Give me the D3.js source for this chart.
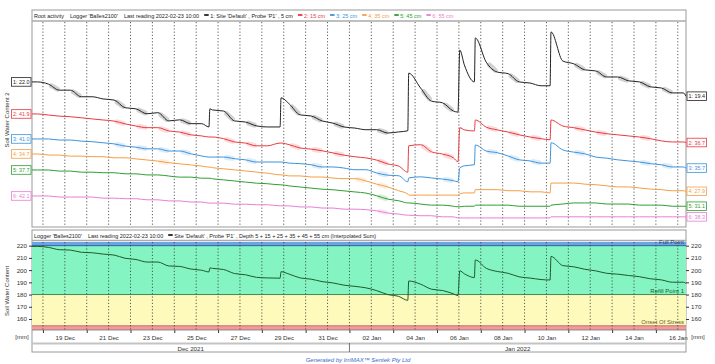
<!DOCTYPE html>
<html>
<head>
<meta charset="utf-8">
<script src="https://cdn.jsdelivr.net/npm/d3@7"></script>
<style>
  body { margin: 0; background: #fff; }
  text { font-family: Arial, "Liberation Sans", sans-serif; }
</style>
</head>
<body>
<div id="chart"></div>
<script>

// reading times (shared by every sensor)
var times = ["2021-12-17 12:00","2021-12-17 18:00","2021-12-18 06:00","2021-12-18 18:00","2021-12-19 06:00","2021-12-19 18:00",
  "2021-12-20 06:00","2021-12-20 18:00","2021-12-21 06:00","2021-12-21 18:00","2021-12-22 06:00","2021-12-22 18:00",
  "2021-12-23 06:00","2021-12-23 18:00","2021-12-24 06:00","2021-12-24 18:00","2021-12-25 06:00","2021-12-25 14:00",
  "2021-12-25 15:00","2021-12-25 18:00","2021-12-26 06:00","2021-12-26 18:00","2021-12-27 06:00","2021-12-27 18:00",
  "2021-12-28 06:00","2021-12-28 20:00","2021-12-28 21:00","2021-12-29 06:00","2021-12-29 18:00","2021-12-30 06:00",
  "2021-12-30 18:00","2021-12-31 06:00","2021-12-31 18:00","2022-01-01 06:00","2022-01-01 18:00","2022-01-02 06:00",
  "2022-01-02 18:00","2022-01-03 06:00","2022-01-03 16:00","2022-01-03 17:00","2022-01-04 06:00","2022-01-04 18:00",
  "2022-01-05 06:00","2022-01-05 18:00","2022-01-05 23:00","2022-01-06 01:00","2022-01-06 06:00","2022-01-06 17:00",
  "2022-01-06 18:00","2022-01-07 06:00","2022-01-07 18:00","2022-01-08 06:00","2022-01-08 18:00","2022-01-09 06:00",
  "2022-01-09 18:00","2022-01-10 04:00","2022-01-10 05:00","2022-01-10 18:00","2022-01-11 06:00","2022-01-11 18:00",
  "2022-01-12 06:00","2022-01-12 18:00","2022-01-13 06:00","2022-01-13 18:00","2022-01-14 06:00","2022-01-14 18:00",
  "2022-01-15 06:00","2022-01-15 18:00","2022-01-16 06:00","2022-01-16 09:00"];

// soil water content per sensor depth
var swc5 = [22.0,22.0,21.6,20.5,20.5,19.3,19.3,18.9,18.7,17.3, 17.1,16.2,16.4,14.9,15.1,14.4,14.4,13.8,17.1,16.9,
  16.7,14.9,14.7,14.0,13.8,13.8,19.1,18.0,16.0,15.8, 14.9,14.5,13.8,13.6,13.3,13.3,12.7,12.9,13.1,23.6,
  20.9,18.5,18.2,16.7,16.5,27.8,25.1,22.0,30.0,25.6, 23.8,23.5,22.0,21.8,21.3,21.3,31.1,25.8,25.3,24.2,
  24.0,22.9,22.9,22.2,22.0,21.1,20.9,20.0,20.0,19.4];
var swc15 = [41.9,41.9,41.7,41.5,41.4,41.2,41.0,40.8,40.6,40.1, 39.7,39.4,39.4,38.8,38.6,38.1,37.9,37.7,37.7,37.7,
  37.4,36.8,36.6,36.1,36.1,36.6,36.6,36.3,35.7,35.5, 35.2,34.8,34.4,34.1,33.9,33.5,32.8,32.4,31.3,36.1,
  36.3,35.0,34.6,33.9,33.2,39.4,39.0,38.8,40.8,39.5, 39.0,38.6,38.1,37.7,37.4,37.2,40.8,39.7,39.4,39.0,
  38.6,38.3,38.1,37.9,37.7,37.4,37.0,36.8,36.8,36.7];
var swc25 = [41.0,41.0,41.0,40.8,40.8,40.6,40.5,40.3,40.1,39.7, 39.5,39.2,39.2,38.8,38.8,38.3,37.9,37.7,37.7,37.7,
  37.7,37.4,37.2,36.8,36.8,36.8,36.8,36.6,36.5,36.3, 35.9,35.9,35.7,35.4,35.4,34.8,34.4,34.3,33.2,33.9,
  34.1,33.9,33.7,33.4,33.2,35.7,36.1,36.3,39.9,38.8, 38.5,37.9,37.2,37.0,36.6,36.6,40.3,39.0,38.6,38.3,
  37.7,37.5,37.2,37.0,36.8,36.5,36.3,35.9,35.9,35.7];
var swc35 = [34.7,34.7,34.5,34.5,34.3,34.3,34.2,34.2,34.0,34.0, 33.8,33.6,33.4,33.1,32.9,32.7,32.5,32.3,32.3,32.2,
  32.0,31.8,31.6,31.4,31.2,30.9,30.9,30.7,30.7,30.5, 30.5,30.3,30.2,30.2,29.8,29.2,28.7,28.0,27.4,27.2,
  27.2,27.2,27.2,27.2,27.2,27.4,27.6,27.6,28.2,28.2, 28.2,28.0,28.0,27.8,27.8,27.6,29.4,29.4,29.4,29.2,
  29.1,28.9,28.7,28.7,28.5,28.3,28.2,28.0,28.0,27.9];
var swc45 = [37.7,37.7,37.7,37.5,37.5,37.3,37.3,37.2,37.2,37.0, 37.0,36.8,36.8,36.6,36.4,36.4,36.2,36.2,36.2,36.1,
  35.9,35.7,35.5,35.3,35.2,35.0,35.0,34.8,34.6,34.4, 34.2,34.1,33.9,33.7,33.5,33.0,32.4,32.1,31.7,31.7,
  31.5,31.3,31.3,31.1,31.0,31.0,31.1,31.1,31.3,31.3, 31.3,31.3,31.1,31.1,31.1,31.1,31.3,31.5,31.7,31.7,
  31.7,31.5,31.5,31.5,31.3,31.3,31.3,31.1,31.1,31.1];
var swc55 = [42.1,42.1,42.1,41.9,41.9,41.9,41.9,41.7,41.7,41.6, 41.6,41.4,41.4,41.2,41.2,41.0,41.0,40.8,40.8,40.8,
  40.8,40.6,40.6,40.5,40.5,40.3,40.3,40.3,40.1,40.1, 39.9,39.9,39.7,39.7,39.6,39.4,39.0,38.8,38.6,38.6,
  38.5,38.5,38.3,38.3,38.1,38.1,38.1,38.1,38.1,38.1, 38.1,38.1,38.1,38.1,38.1,38.1,38.3,38.3,38.3,38.3,
  38.3,38.3,38.3,38.3,38.3,38.3,38.3,38.3,38.3,38.3];

var sensors = [swc5, swc15, swc25, swc35, swc45, swc55];
var sensorNames = ["1: Site 'Default' , Probe 'P1' , 5 cm", "2: 15 cm", "3: 25 cm", "4: 35 cm", "5: 45 cm", "6: 55 cm"];
var sensorColors = ["#222222", "#e8393f", "#3d93dc", "#f59e45", "#2e9e32", "#e77fd4"];
// each trace is shifted in the root activity view
var sensorOffsets = [4.41, -21.32, -24.97, -21.40, -27.32, -36.45];

var sumTicks = [160, 170, 180, 190, 200, 210, 220];
var fullPoint = 220, refillPoint = 180, stressPoint = 154.5;

var parseTime = d3.timeParse("%Y-%m-%d %H:%M");
var dates = times.map(parseTime);

// interpolated sum of the six sensors (mm)
var profileSum = dates.map(function(d, j) {
  return d3.sum(sensors, function(s) { return s[j]; });
});

var svg = d3.select("#chart").append("svg")
    .attr("width", 715)
    .attr("height", 364);

var left = 32, right = 686;
var headSize = "5.5px";

var x = d3.scaleTime()
    .domain(d3.extent(dates))
    .range([left, right]);

var yRoot = d3.scaleLinear().domain([0, 37.5]).range([227, 21]);
var ySum = d3.scaleLinear().domain([151, 223]).range([330, 242]);

var days = d3.timeDay.range(d3.timeDay.ceil(x.domain()[0]), x.domain()[1]);

function dayLines(y0, y1) {
  svg.append("g").selectAll("line")
      .data(days)
    .enter().append("line")
      .attr("x1", function(d) { return x(d); })
      .attr("x2", function(d) { return x(d); })
      .attr("y1", y0)
      .attr("y2", y1)
      .attr("stroke", "#333")
      .attr("stroke-width", 0.8)
      .attr("stroke-dasharray", "1.2,2");
}

// header row: items placed one after another, returns next x
function headerText(xp, yp, txt, color) {
  var t = svg.append("text")
      .attr("x", xp)
      .attr("y", yp)
      .attr("font-size", headSize)
      .attr("fill", color || "#222")
      .text(txt);
  return xp + t.node().getComputedTextLength();
}
function headerMark(xp, yp, color) {
  svg.append("rect")
      .attr("x", xp).attr("y", yp - 3.4)
      .attr("width", 4.5).attr("height", 1.8)
      .attr("fill", color);
  return xp + 6;
}

/* Root activity panel */

svg.append("rect")
    .attr("x", left).attr("y", 10)
    .attr("width", right - left).attr("height", 217)
    .attr("fill", "#fff")
    .attr("stroke", "#9a9a9a");
svg.append("line")
    .attr("x1", left).attr("x2", right)
    .attr("y1", 21).attr("y2", 21)
    .attr("stroke", "#aaa").attr("stroke-width", 1.5);

var hx = headerText(34, 17.5, "Root activity") + 6;
hx = headerText(hx, 17.5, "Logger 'Balles2100'") + 6;
hx = headerText(hx, 17.5, "Last reading 2022-02-23 10:00") + 5;

// legend
sensorNames.forEach(function(name, i) {
  hx = headerMark(hx, 17.5, sensorColors[i]);
  hx = headerText(hx, 17.5, name, i === 0 ? "#222" : sensorColors[i]) + 5;
});

dayLines(22, 226);

svg.append("clipPath").attr("id", "clipRoot")
  .append("rect").attr("x", left).attr("y", 22).attr("width", right - left).attr("height", 205);

var rootG = svg.append("g").attr("clip-path", "url(#clipRoot)");

sensors.forEach(function(values, i) {
  var line = d3.line()
      .curve(d3.curveMonotoneX)
      .x(function(d, j) { return x(dates[j]); })
      .y(function(d) { return yRoot(d + sensorOffsets[i]); });

  // shade the daytime drawdown (root activity)
  var limit = i === 0 ? 0.5 : 0.25;
  for (var j = 0; j < values.length - 1; j++) {
    if (dates[j].getHours() === 6 && dates[j + 1].getHours() === 18 && values[j] - values[j + 1] > limit) {
      var x0 = x(dates[j]), x1 = x(dates[j + 1]);
      var y0 = yRoot(values[j] + sensorOffsets[i]), y1 = yRoot(values[j + 1] + sensorOffsets[i]);
      var mx = x0 + (x1 - x0) * 0.55, my = y0 + (y1 - y0) * 0.55;
      rootG.append("line")
          .attr("x1", x0 + (mx - x0) * 0.5).attr("y1", y0 + (my - y0) * 0.5)
          .attr("x2", mx + (x1 - mx) * 0.6).attr("y2", my + (y1 - my) * 0.6)
          .attr("stroke", i === 0 ? "#9a9a9a" : sensorColors[i])
          .attr("stroke-opacity", i === 0 ? 0.45 : 0.18)
          .attr("stroke-width", 5)
          .attr("stroke-linecap", "round");
    }
  }

  rootG.append("path")
      .datum(values)
      .attr("d", line)
      .attr("fill", "none")
      .attr("stroke", sensorColors[i])
      .attr("stroke-width", 1);
});

// value boxes at both ends
function valueBox(xp, anchorRight, yp, txt, color) {
  var g = svg.append("g");
  var r = g.append("rect");
  var t = g.append("text")
      .attr("y", yp + 2)
      .attr("font-size", "5.4px")
      .attr("fill", color)
      .text(txt);
  var w = t.node().getComputedTextLength() + 3;
  var bx = anchorRight ? xp - w : xp;
  t.attr("x", bx + 1.5);
  r.attr("x", bx).attr("y", yp - 4.3)
      .attr("width", w).attr("height", 8.6)
      .attr("fill", "#fff")
      .attr("stroke", color)
      .attr("stroke-width", 0.8);
}

sensors.forEach(function(values, i) {
  var first = values[0], last = values[values.length - 1];
  valueBox(left - 1, true, yRoot(first + sensorOffsets[i]), (i + 1) + ": " + first.toFixed(1), sensorColors[i]);
  valueBox(right + 1, false, yRoot(last + sensorOffsets[i]), (i + 1) + ": " + last.toFixed(1), sensorColors[i]);
});

// text label for the y axis
svg.append("text")
    .attr("transform", "rotate(-90)")
    .attr("x", -120)
    .attr("y", 9)
    .attr("font-size", "6px")
    .attr("fill", "#333")
    .style("text-anchor", "middle")
    .text("Soil Water Content 2");

/* Summed profile panel */

svg.append("rect")
    .attr("x", left).attr("y", 230)
    .attr("width", right - left).attr("height", 122)
    .attr("fill", "#fff")
    .attr("stroke", "#9a9a9a");
svg.append("line")
    .attr("x1", left).attr("x2", right)
    .attr("y1", 240.5).attr("y2", 240.5)
    .attr("stroke", "#aaa").attr("stroke-width", 1.5);

hx = headerText(34, 237.5, "Logger 'Balles2100'") + 6;
hx = headerText(hx, 237.5, "Last reading 2022-02-23 10:00") + 5;
hx = headerMark(hx, 237.5, "#222");
headerText(hx, 237.5, "Site 'Default' , Probe 'P1' , Depth 5 + 15 + 25 + 35 + 45 + 55 cm (Interpolated Sum)");

// bands
var bands = [
  {lo: fullPoint, hi: 223, fill: "#6aa3e6"},
  {lo: refillPoint, hi: fullPoint, fill: "#84f5c2"},
  {lo: stressPoint, hi: refillPoint, fill: "#fdfabb"},
  {lo: 151, hi: stressPoint, fill: "#f19a9a"}
];
svg.append("g").selectAll("rect")
    .data(bands)
  .enter().append("rect")
    .attr("x", left)
    .attr("width", right - left)
    .attr("y", function(d) { return ySum(d.hi); })
    .attr("height", function(d) { return ySum(d.lo) - ySum(d.hi); })
    .attr("fill", function(d) { return d.fill; });

svg.append("line").attr("x1", left).attr("x2", right)
    .attr("y1", ySum(fullPoint)).attr("y2", ySum(fullPoint))
    .attr("stroke", "#2c5f9e").attr("stroke-width", 1);
svg.append("line").attr("x1", left).attr("x2", right)
    .attr("y1", ySum(refillPoint)).attr("y2", ySum(refillPoint))
    .attr("stroke", "#3f8a57").attr("stroke-width", 1);
svg.append("line").attr("x1", left).attr("x2", right)
    .attr("y1", ySum(stressPoint)).attr("y2", ySum(stressPoint))
    .attr("stroke", "#c46060").attr("stroke-width", 0.8);

function bandLabel(v, txt, color) {
  svg.append("text")
      .attr("x", right - 2)
      .attr("y", ySum(v) - 1.5)
      .attr("font-size", "6px")
      .attr("fill", color)
      .style("text-anchor", "end")
      .text(txt);
}
bandLabel(fullPoint, "Full Point", "#1d3d66");
bandLabel(refillPoint, "Refill Point 1", "#1f5a33");
bandLabel(stressPoint, "Onset Of Stress", "#6b5a2a");

dayLines(242, 330);

svg.append("path")
    .datum(profileSum)
    .attr("d", d3.line()
        .curve(d3.curveMonotoneX)
        .x(function(d, j) { return x(dates[j]); })
        .y(function(d) { return ySum(d); }))
    .attr("fill", "none")
    .attr("stroke", "#1d5a2b")
    .attr("stroke-width", 1);

// Add the Y Axes
function styleAxis(g) {
  g.select(".domain").remove();
  g.selectAll("text").attr("font-size", "6.2px").attr("fill", "#333");
  g.selectAll("line").attr("stroke", "#333");
}
svg.append("g")
    .attr("transform", "translate(" + left + ",0)")
    .call(d3.axisLeft(ySum).tickValues(sumTicks).tickSize(3).tickPadding(2))
    .call(styleAxis);
svg.append("g")
    .attr("transform", "translate(" + right + ",0)")
    .call(d3.axisRight(ySum).tickValues(sumTicks).tickSize(3).tickPadding(2))
    .call(styleAxis);

// Add the X Axis: labels every other day, ticks in between
var labelDays = days.filter(function(d, i) { return i % 2 === 1; });
var markDays = days.filter(function(d, i) { return i % 2 === 0; });
svg.append("g")
    .attr("transform", "translate(0,330)")
    .call(d3.axisBottom(x).tickValues(markDays).tickSize(3).tickFormat(""))
    .call(styleAxis);
svg.append("g")
    .attr("transform", "translate(0,333)")
    .call(d3.axisBottom(x).tickValues(labelDays).tickSize(0).tickFormat(d3.timeFormat("%d %b")))
    .call(styleAxis);
svg.append("line").attr("x1", left).attr("x2", right)
    .attr("y1", 330).attr("y2", 330)
    .attr("stroke", "#777").attr("stroke-width", 0.8);

svg.append("text").attr("x", 22).attr("y", 339).attr("font-size", "6px").attr("fill", "#333")
    .style("text-anchor", "middle").text("[mm]");
svg.append("text").attr("x", 698).attr("y", 339).attr("font-size", "6px").attr("fill", "#333")
    .style("text-anchor", "middle").text("[mm]");

// month row
var newYear = parseTime("2022-01-01 00:00");
svg.append("line").attr("x1", left).attr("x2", right)
    .attr("y1", 343.5).attr("y2", 343.5)
    .attr("stroke", "#c4c4c4").attr("stroke-width", 2);
svg.append("line").attr("x1", x(newYear)).attr("x2", x(newYear))
    .attr("y1", 343).attr("y2", 352)
    .attr("stroke", "#555").attr("stroke-width", 0.8);
var months = [
  {label: "Dec 2021", from: x.domain()[0], to: newYear},
  {label: "Jan 2022", from: newYear, to: x.domain()[1]}
];
svg.append("g").selectAll("text")
    .data(months)
  .enter().append("text")
    .attr("x", function(d) { return (x(d.from) + x(d.to)) / 2; })
    .attr("y", 350.5)
    .attr("font-size", "6.2px")
    .attr("fill", "#333")
    .style("text-anchor", "middle")
    .text(function(d) { return d.label; });

svg.append("text")
    .attr("transform", "rotate(-90)")
    .attr("x", -291)
    .attr("y", 9)
    .attr("font-size", "6px")
    .attr("fill", "#333")
    .style("text-anchor", "middle")
    .text("Soil Water Content");

svg.append("text")
    .attr("x", 358)
    .attr("y", 362)
    .attr("font-size", "6px")
    .attr("font-style", "italic")
    .attr("fill", "#3a6cc6")
    .style("text-anchor", "middle")
    .text("Generated by IrriMAX™ Sentek Pty Ltd");

</script>
</body>
</html>
